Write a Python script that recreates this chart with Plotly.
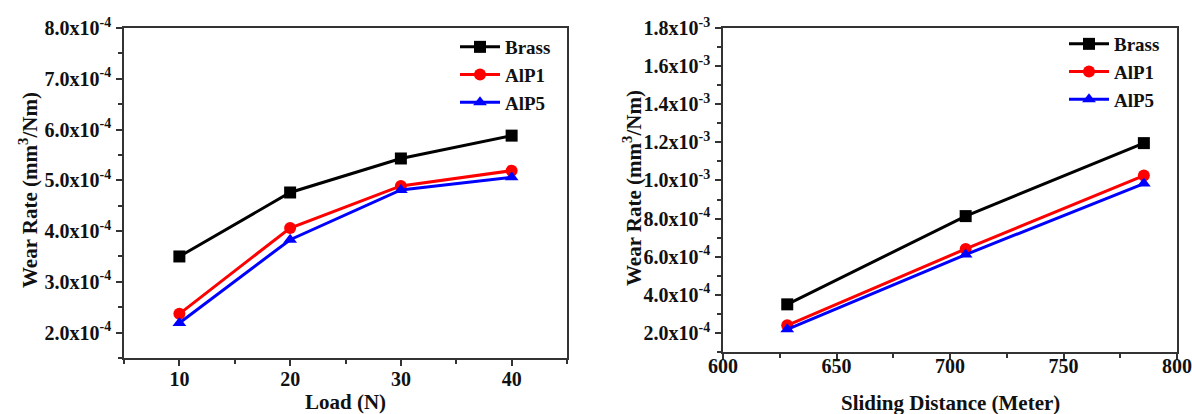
import plotly.graph_objects as go

# ---- data ----
load_n = [10, 20, 30, 40]
brass_load = [3.50e-4, 4.76e-4, 5.43e-4, 5.88e-4]
alp1_load = [2.37e-4, 4.06e-4, 4.89e-4, 5.19e-4]
alp5_load = [2.19e-4, 3.83e-4, 4.81e-4, 5.06e-4]

distance_m = [628.3, 706.9, 785.4]
brass_dist = [3.50e-4, 8.13e-4, 1.196e-3]
alp1_dist = [2.40e-4, 6.41e-4, 1.026e-3]
alp5_dist = [2.19e-4, 6.11e-4, 9.84e-4]

series_names = ["Brass", "AlP1", "AlP5"]
series_colors = ["#000000", "#ff0000", "#0000ff"]
series_symbols = ["square", "circle", "triangle-up"]

left_ytick_vals = [2e-4, 3e-4, 4e-4, 5e-4, 6e-4, 7e-4, 8e-4]
left_ytick_text = ["2.0x10<sup>-4</sup>", "3.0x10<sup>-4</sup>", "4.0x10<sup>-4</sup>",
                   "5.0x10<sup>-4</sup>", "6.0x10<sup>-4</sup>", "7.0x10<sup>-4</sup>",
                   "8.0x10<sup>-4</sup>"]
left_xtick_vals = [10, 20, 30, 40]

right_ytick_vals = [2e-4, 4e-4, 6e-4, 8e-4, 1.0e-3, 1.2e-3, 1.4e-3, 1.6e-3, 1.8e-3]
right_ytick_text = ["2.0x10<sup>-4</sup>", "4.0x10<sup>-4</sup>", "6.0x10<sup>-4</sup>",
                    "8.0x10<sup>-4</sup>", "1.0x10<sup>-3</sup>", "1.2x10<sup>-3</sup>",
                    "1.4x10<sup>-3</sup>", "1.6x10<sup>-3</sup>", "1.8x10<sup>-3</sup>"]
right_xtick_vals = [600, 650, 700, 750, 800]

FONT = "Liberation Serif"
W, H = 1192, 414

fig = go.Figure()

left_series = [brass_load, alp1_load, alp5_load]
right_series = [brass_dist, alp1_dist, alp5_dist]

for name, col, sym, ys in zip(series_names, series_colors, series_symbols, left_series):
    fig.add_trace(go.Scatter(x=load_n, y=ys, mode="lines+markers", name=name,
                             line=dict(color=col, width=3),
                             marker=dict(symbol=sym, size=12, color=col),
                             xaxis="x", yaxis="y", legend="legend"))
for name, col, sym, ys in zip(series_names, series_colors, series_symbols, right_series):
    fig.add_trace(go.Scatter(x=distance_m, y=ys, mode="lines+markers", name=name,
                             line=dict(color=col, width=3),
                             marker=dict(symbol=sym, size=12, color=col),
                             xaxis="x2", yaxis="y2", legend="legend2"))

axis_common = dict(showgrid=False, zeroline=False, showline=True, linecolor="#333333",
                   linewidth=1.5, mirror=True, ticks="outside", tickwidth=1.5,
                   tickcolor="#333333", automargin=False,
                   tickfont=dict(family=FONT, size=20, color="#111111", weight="bold"))

def px_x(p):
    return p / W

def px_y(p):
    return 1 - p / H

legend_font = dict(family=FONT, size=19, color="#111111", weight="bold")

fig.update_layout(
    template="none",
    width=W, height=H, margin=dict(l=0, r=0, t=0, b=0, pad=0, autoexpand=False),
    paper_bgcolor="white", plot_bgcolor="white",
    xaxis=dict(domain=[px_x(124), px_x(567)], range=[5, 45], tickvals=left_xtick_vals,
               minor=dict(tick0=0, dtick=5, ticks="outside", ticklen=4, tickcolor="#333333"),
               anchor="y", ticklen=6, ticklabelstandoff=-4, **axis_common),
    yaxis=dict(domain=[px_y(358), px_y(28)], range=[1.5e-4, 8.0e-4],
               tickvals=left_ytick_vals, ticktext=left_ytick_text,
               minor=dict(tick0=0, dtick=0.5e-4, ticks="outside", ticklen=4, tickcolor="#333333"),
               anchor="x", ticklen=6, ticklabelstandoff=1, **axis_common),
    xaxis2=dict(domain=[px_x(723), px_x(1177)], range=[600, 800], tickvals=right_xtick_vals,
                minor=dict(tick0=0, dtick=25, ticks="outside", ticklen=4, tickcolor="#333333"),
                anchor="y2", ticklen=6, ticklabelstandoff=-11, **axis_common),
    yaxis2=dict(domain=[px_y(352), px_y(28)], range=[1.0e-4, 1.8e-3],
                tickvals=right_ytick_vals, ticktext=right_ytick_text,
                minor=dict(tick0=0, dtick=1e-4, ticks="outside", ticklen=4, tickcolor="#333333"),
                anchor="x2", ticklen=6, ticklabelstandoff=1, **axis_common),
    legend=dict(x=px_x(455), y=px_y(28), xanchor="left", yanchor="top",
                bgcolor="rgba(0,0,0,0)", itemwidth=40, tracegroupgap=0, font=legend_font),
    legend2=dict(x=px_x(1064), y=px_y(25), xanchor="left", yanchor="top",
                 bgcolor="rgba(0,0,0,0)", itemwidth=40, tracegroupgap=0, font=legend_font),
)

title_font = dict(family=FONT, size=21, color="#111111", weight="bold")
fig.add_annotation(text="Load (N)", x=px_x(345), y=px_y(402), xref="paper", yref="paper",
                   showarrow=False, font=title_font, xanchor="center", yanchor="middle")
fig.add_annotation(text="Sliding Distance (Meter)", x=px_x(950), y=px_y(403), xref="paper",
                   yref="paper", showarrow=False, font=title_font, xanchor="center",
                   yanchor="middle")
fig.add_annotation(text="Wear Rate (mm<sup>3</sup>/Nm)", x=px_x(28), y=px_y(190), xref="paper",
                   yref="paper", showarrow=False, font=title_font, textangle=-90,
                   xanchor="center", yanchor="middle")
fig.add_annotation(text="Wear Rate (mm<sup>3</sup>/Nm)", x=px_x(632), y=px_y(188), xref="paper",
                   yref="paper", showarrow=False, font=title_font, textangle=-90,
                   xanchor="center", yanchor="middle")

fig.write_html("out.html", config={"displayModeBar": False},
               post_script="document.body.style.margin='0';")
